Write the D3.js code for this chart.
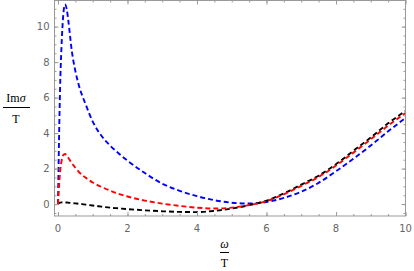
<!DOCTYPE html>
<html lang="en">
<head>
<meta charset="utf-8">
<title>Im sigma / T</title>
<script src="https://d3js.org/d3.v7.min.js"></script>
<style type="text/css">
  body { margin: 0; background: #fff; }
  svg { display: block; }
</style>
</head>
<body>
<script type="text/javascript">

// data (omega/T vs Im sigma/T)
const omega = [0, 0.03, 0.06, 0.1, 0.15, 0.2, 0.25, 0.3, 0.4, 0.5, 0.6, 0.8, 1, 1.25, 1.5, 1.75, 2, 2.5, 3, 3.5, 4, 4.5, 5, 5.5, 6, 6.5, 7, 7.5, 8, 8.5, 9, 9.5, 10];
const blueVals = [0, 3.6, 6.5, 8.8, 10.6, 11.25, 11.0, 10.3, 8.6, 7.5, 6.7, 5.6, 4.65, 3.85, 3.3, 2.85, 2.45, 1.75, 1.15, 0.75, 0.45, 0.22, 0.08, 0.03, 0.12, 0.35, 0.7, 1.2, 1.85, 2.55, 3.3, 4.1, 4.85];
const redVals = [0, 1.0, 1.8, 2.4, 2.75, 2.82, 2.75, 2.6, 2.3, 2.05, 1.82, 1.48, 1.22, 0.97, 0.76, 0.58, 0.43, 0.2, 0.03, -0.1, -0.2, -0.25, -0.2, -0.06, 0.17, 0.55, 1.03, 1.53, 2.17, 2.9, 3.65, 4.42, 5.13];
const blackVals = [0, 0.06, 0.08, 0.1, 0.1, 0.1, 0.09, 0.08, 0.06, 0.04, 0.02, -0.03, -0.08, -0.14, -0.2, -0.24, -0.28, -0.35, -0.4, -0.44, -0.45, -0.38, -0.25, -0.06, 0.2, 0.6, 1.1, 1.6, 2.25, 3.0, 3.75, 4.55, 5.25];
const xTicks = [0, 2, 4, 6, 8, 10];
const yTicks = [0, 2, 4, 6, 8, 10];

const svgW = 414, svgH = 271;
const fL = 54.5, fR = 405.5, fT = 0.5, fB = 216;

const x = d3.scaleLinear().domain([-0.1, 10]).range([fL, fR]);
const y = d3.scaleLinear().domain([-0.67, 11.47]).range([fB, fT]);

const svg = d3.select("body").append("svg")
    .attr("width", svgW)
    .attr("height", svgH);

svg.append("clipPath").attr("id", "plotclip")
  .append("rect")
    .attr("x", fL).attr("y", fT)
    .attr("width", fR - fL).attr("height", fB - fT);

// curves
const line = d3.line()
    .x(d => x(d[0]))
    .y(d => y(d[1]))
    .curve(d3.curveMonotoneX);

const series = [
  {vals: blueVals, color: "#0000ff"},
  {vals: blackVals, color: "#000000"},
  {vals: redVals, color: "#ff0000"}
];

svg.append("g").attr("clip-path", "url(#plotclip)")
  .selectAll("path")
  .data(series)
  .enter()
  .append("path")
    .attr("d", s => line(omega.map((w, i) => [w, s.vals[i]])))
    .attr("fill", "none")
    .attr("stroke", s => s.color)
    .attr("stroke-width", 1.9)
    .attr("stroke-dasharray", "5,3");

// frame with inward ticks on every side
const frameColor = "#999";
const minorX = d3.range(0, 10.01, 0.5);
const minorY = d3.range(-0.5, 11.01, 0.5);

function tickSet(vals, len) {
  [
    [d3.axisBottom(x), `translate(0,${fB})`],
    [d3.axisTop(x), `translate(0,${fT})`],
    [d3.axisLeft(y), `translate(${fL},0)`],
    [d3.axisRight(y), `translate(${fR},0)`]
  ].forEach(([ax, tr], i) => {
    const v = i < 2 ? vals[0] : vals[1];
    const g = svg.append("g").attr("transform", tr)
        .call(ax.tickValues(v).tickSize(-len).tickFormat(""));
    g.selectAll("line").attr("stroke", frameColor);
    g.select(".domain").remove();
  });
}
tickSet([minorX, minorY], 2);
tickSet([xTicks, yTicks], 4);

svg.append("rect")
    .attr("x", fL).attr("y", fT)
    .attr("width", fR - fL).attr("height", fB - fT)
    .attr("fill", "none")
    .attr("stroke", frameColor)
    .attr("stroke-width", 1);

// tick labels
svg.append("g").selectAll("text")
  .data(xTicks).enter().append("text")
    .attr("x", d => x(d))
    .attr("y", fB + 16)
    .attr("text-anchor", "middle")
    .attr("font-family", "DejaVu Sans, sans-serif")
    .attr("font-size", 10)
    .attr("fill", "#666")
    .text(d => d);

svg.append("g").selectAll("text")
  .data(yTicks).enter().append("text")
    .attr("x", fL - 5)
    .attr("y", d => y(d) + 3.5)
    .attr("text-anchor", "end")
    .attr("font-family", "DejaVu Sans, sans-serif")
    .attr("font-size", 10)
    .attr("fill", "#666")
    .text(d => d);

// axis labels as fractions
const serif = "Liberation Serif, DejaVu Serif, serif";
const yl = svg.append("g");
const num = yl.append("text")
    .attr("x", 16).attr("y", 102)
    .attr("text-anchor", "middle")
    .attr("font-family", serif)
    .attr("font-size", 12);
num.append("tspan").text("Im");
num.append("tspan").attr("font-style", "italic").text("σ");
yl.append("line")
    .attr("x1", 3).attr("x2", 30)
    .attr("y1", 107.5).attr("y2", 107.5)
    .attr("stroke", "#000").attr("stroke-width", 1);
yl.append("text")
    .attr("x", 16).attr("y", 123)
    .attr("text-anchor", "middle")
    .attr("font-family", serif)
    .attr("font-size", 12)
    .text("T");

const xl = svg.append("g");
xl.append("text")
    .attr("x", 224.5).attr("y", 247.5)
    .attr("text-anchor", "middle")
    .attr("font-family", serif)
    .attr("font-style", "italic")
    .attr("font-size", 12)
    .text("ω");
xl.append("line")
    .attr("x1", 220).attr("x2", 229)
    .attr("y1", 252.5).attr("y2", 252.5)
    .attr("stroke", "#000").attr("stroke-width", 1);
xl.append("text")
    .attr("x", 224.5).attr("y", 267)
    .attr("text-anchor", "middle")
    .attr("font-family", serif)
    .attr("font-size", 12)
    .text("T");

</script>
</body>
</html>
